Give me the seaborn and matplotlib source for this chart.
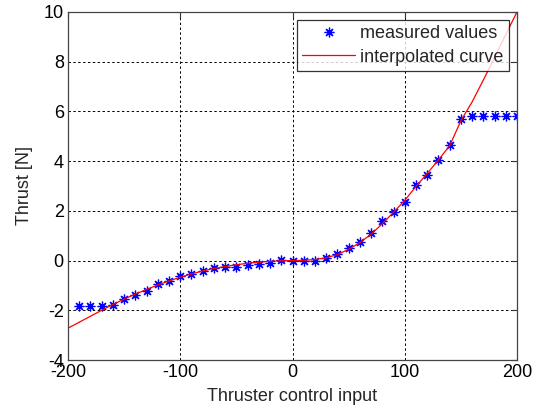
import numpy as np
import pandas as pd
import seaborn as sns
import matplotlib.pyplot as plt

meas_x = list(range(-190, 201, 10))
meas_y = [-1.83, -1.83, -1.83, -1.80, -1.56, -1.38, -1.22, -0.93, -0.81, -0.63,
          -0.55, -0.42, -0.31, -0.27, -0.24, -0.19, -0.14, -0.08, 0.01, 0.00,
          0.00, 0.00, 0.10, 0.28, 0.52, 0.74, 1.10, 1.57, 1.97, 2.37,
          3.03, 3.44, 4.03, 4.64, 5.68, 5.83, 5.83, 5.83, 5.83, 5.83]

# interpolated curve
curve_x = list(range(-200, 201, 10))
curve_y = [-2.72, -2.48, -2.24, -2.00, -1.77, -1.55, -1.35, -1.16, -0.98, -0.82,
           -0.67, -0.54, -0.42, -0.32, -0.24, -0.17, -0.11, -0.07, -0.03, -0.01,
           0.00, 0.01, 0.04, 0.11, 0.24, 0.45, 0.72, 1.06, 1.48, 1.94,
           2.42, 2.98, 3.50, 4.05, 4.62, 5.62, 6.38, 7.26, 8.17, 9.09, 10.00]

meas = pd.DataFrame({"input": meas_x, "thrust": meas_y})
curve = pd.DataFrame({"input": curve_x, "thrust": curve_y})

sns.set_style("white")
plt.rcParams["font.family"] = ["Liberation Sans", "DejaVu Sans"]
plt.rcParams["axes.unicode_minus"] = False

fig = plt.figure(figsize=(5.41, 4.12), dpi=100)
ax = fig.add_axes([0.1257, 0.1262, 0.830, 0.845])

sns.lineplot(data=meas, x="input", y="thrust", ax=ax, color="blue",
             linestyle="", marker=(8, 2, 0), markersize=7, markeredgewidth=0.9,
             markeredgecolor="blue", label="measured values")
sns.lineplot(data=curve, x="input", y="thrust", ax=ax, color="red",
             linewidth=0.9, label="interpolated curve")

ax.set_xlim(-200, 200)
ax.set_ylim(-4, 10)
ax.set_xticks([-200, -100, 0, 100, 200])
ax.set_yticks([-4, -2, 0, 2, 4, 6, 8, 10])
ax.grid(True, color="black", linestyle=(0, (2.5, 2.5)), linewidth=0.7)
ax.tick_params(direction="in", length=4, labelsize=13, top=True, right=True,
               colors="#333333", labelcolor="black", pad=3)
for s in ax.spines.values():
    s.set_color("#444444")
    s.set_linewidth(0.9)

ax.set_xlabel("Thruster control input", fontsize=13, labelpad=5)
ax.set_ylabel("Thrust [N]", fontsize=13, labelpad=8)

leg = ax.legend(loc="upper right", fontsize=13, frameon=True, fancybox=False,
                edgecolor="black", borderaxespad=0.45, handlelength=2.9,
                handletextpad=0.3, borderpad=0.3, labelspacing=0.35)
leg.get_frame().set_linewidth(0.9)

plt.savefig("out.png", dpi=100)
plt.close()
